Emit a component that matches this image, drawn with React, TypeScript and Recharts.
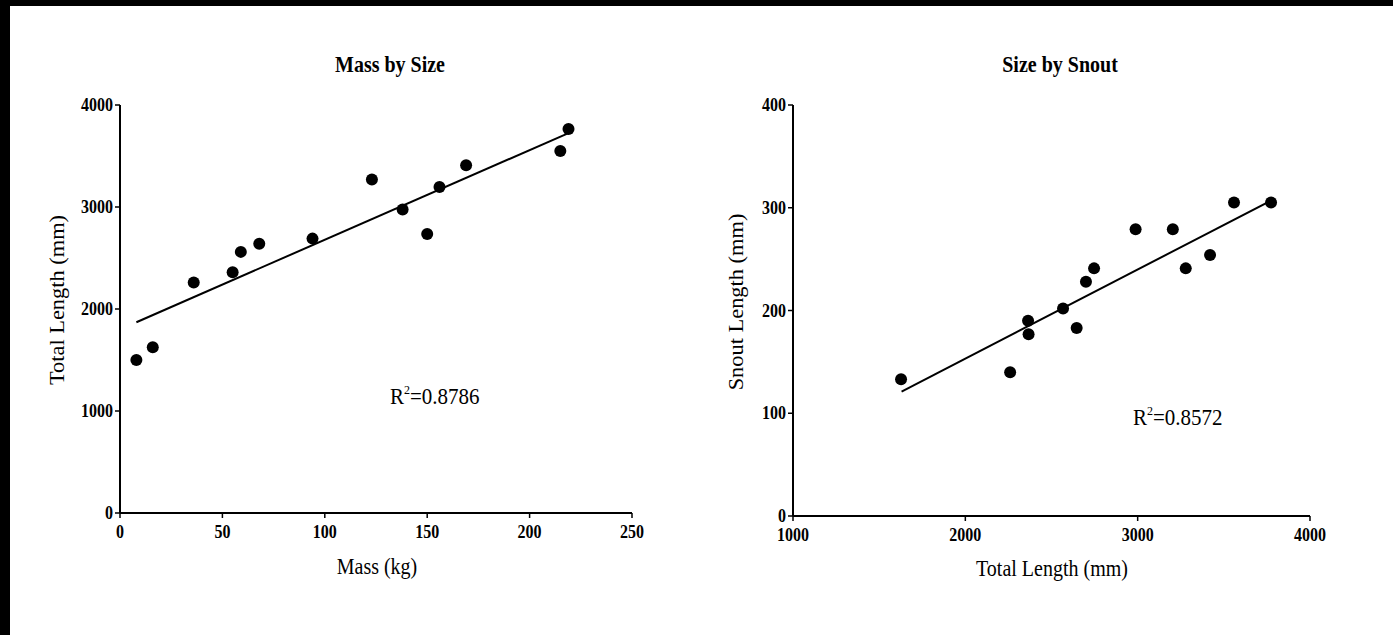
import React from 'react';
import { ScatterChart, Scatter, XAxis, YAxis } from 'recharts';

// ---- Data: Mass by Size ----
const massKg = [8, 16, 36, 55, 59, 68, 94, 123, 138, 150, 156, 169, 215, 219];
const totalLengthA = [1500, 1625, 2260, 2360, 2560, 2640, 2690, 3270, 2975, 2735, 3195, 3410, 3550, 3765];
const trendAX = [8, 219];
const trendAY = [1870, 3725];
const xTicksA = [0, 50, 100, 150, 200, 250];
const yTicksA = [0, 1000, 2000, 3000, 4000];

// ---- Data: Size by Snout ----
const totalLengthB = [1627, 2260, 2364, 2367, 2567, 2646, 2700, 2747, 2988, 3204, 3279, 3420, 3559, 3774];
const snoutB = [133, 140, 190, 177, 202, 183, 228, 241, 279, 279, 241, 254, 305, 305];
const trendBX = [1630, 3785];
const trendBY = [121, 308];
const xTicksB = [1000, 2000, 3000, 4000];
const yTicksB = [0, 100, 200, 300, 400];

const FONT = '"Liberation Serif", "Times New Roman", serif';

const pointsA = massKg.map((x, i) => ({ x, y: totalLengthA[i] }));
const lineA = trendAX.map((x, i) => ({ x, y: trendAY[i] }));
const pointsB = totalLengthB.map((x, i) => ({ x, y: snoutB[i] }));
const lineB = trendBX.map((x, i) => ({ x, y: trendBY[i] }));

const Dot = (props: any) => <circle cx={props.cx} cy={props.cy} r={6} fill="#000" />;
const NoDot = () => <g />;

const XTick = (props: any) => {
  const { x, y, payload } = props;
  return (
    <g transform={`translate(${x},${y + 2})`}>
      <text transform="scale(1,1.2)" x={0} y={0} dy={12} textAnchor="middle" fontSize={16} fontWeight="bold" fill="#000" fontFamily={FONT}>
        {payload.value}
      </text>
    </g>
  );
};

const YTick = (props: any) => {
  const { x, y, payload } = props;
  return (
    <g transform={`translate(${x},${y})`}>
      <text transform="scale(1,1.2)" x={0} y={0} dy={5} textAnchor="end" fontSize={16} fontWeight="bold" fill="#000" fontFamily={FONT}>
        {payload.value}
      </text>
    </g>
  );
};

const axisLine = { stroke: '#000', strokeWidth: 2 };
const tickLine = { stroke: '#000', strokeWidth: 1.5 };

const abs = (style: React.CSSProperties): React.CSSProperties => ({
  position: 'absolute',
  fontFamily: FONT,
  color: '#000',
  whiteSpace: 'nowrap',
  lineHeight: 1,
  ...style,
});

export default function App() {
  return (
    <div style={{ position: 'fixed', left: 0, top: 0, width: 1393, height: 635, background: '#fff', overflow: 'hidden' }}>
      <div style={{ position: 'absolute', left: 0, top: 0, width: 1393, height: 6, background: '#000' }} />
      <div style={{ position: 'absolute', left: 0, top: 0, width: 10, height: 635, background: '#000' }} />

      {/* Left chart */}
      <div style={{ position: 'absolute', left: 0, top: 0 }}>
        <ScatterChart width={700} height={635} margin={{ top: 105, right: 68, bottom: 92, left: 60 }}>
          <XAxis
            type="number"
            dataKey="x"
            domain={[0, 250]}
            ticks={xTicksA}
            interval={0}
            tick={<XTick />}
            axisLine={axisLine}
            tickLine={tickLine}
            tickSize={5}
            tickMargin={4}
            height={30}
            allowDataOverflow
          />
          <YAxis
            type="number"
            dataKey="y"
            domain={[0, 4000]}
            ticks={yTicksA}
            interval={0}
            tick={<YTick />}
            axisLine={axisLine}
            tickLine={tickLine}
            tickSize={5}
            tickMargin={2}
            width={60}
            allowDataOverflow
          />
          <Scatter data={lineA} line={{ stroke: '#000', strokeWidth: 2 }} shape={NoDot} isAnimationActive={false} legendType="none" />
          <Scatter data={pointsA} shape={Dot} isAnimationActive={false} />
        </ScatterChart>
      </div>
      <div style={abs({ left: 390, top: 64, transform: 'translate(-50%,-50%) scale(1,1.15)', fontSize: 20, fontWeight: 'bold' })}>Mass by Size</div>
      <div style={abs({ left: 377, top: 566, transform: 'translate(-50%,-50%) scale(1,1.12)', fontSize: 20 })}>Mass (kg)</div>
      <div style={abs({ left: 57, top: 300, transform: 'translate(-50%,-50%) rotate(-90deg) scale(1.12,1)', fontSize: 20 })}>Total Length (mm)</div>
      <div style={abs({ left: 390, top: 386, fontSize: 21, transform: 'scale(1,1.12)' })}>
        R<sup style={{ fontSize: 12, verticalAlign: 'top', position: 'relative', top: -2 }}>2</sup>=0.8786
      </div>

      {/* Right chart */}
      <div style={{ position: 'absolute', left: 680, top: 0 }}>
        <ScatterChart width={713} height={635} margin={{ top: 105, right: 83, bottom: 89, left: 53 }}>
          <XAxis
            type="number"
            dataKey="x"
            domain={[1000, 4000]}
            ticks={xTicksB}
            interval={0}
            tick={<XTick />}
            axisLine={axisLine}
            tickLine={tickLine}
            tickSize={5}
            tickMargin={4}
            height={30}
            allowDataOverflow
          />
          <YAxis
            type="number"
            dataKey="y"
            domain={[0, 400]}
            ticks={yTicksB}
            interval={0}
            tick={<YTick />}
            axisLine={axisLine}
            tickLine={tickLine}
            tickSize={5}
            tickMargin={2}
            width={60}
            allowDataOverflow
          />
          <Scatter data={lineB} line={{ stroke: '#000', strokeWidth: 2 }} shape={NoDot} isAnimationActive={false} legendType="none" />
          <Scatter data={pointsB} shape={Dot} isAnimationActive={false} />
        </ScatterChart>
      </div>
      <div style={abs({ left: 1060, top: 64, transform: 'translate(-50%,-50%) scale(1,1.15)', fontSize: 20, fontWeight: 'bold' })}>Size by Snout</div>
      <div style={abs({ left: 1052, top: 568, transform: 'translate(-50%,-50%) scale(1,1.12)', fontSize: 20 })}>Total Length (mm)</div>
      <div style={abs({ left: 736, top: 302, transform: 'translate(-50%,-50%) rotate(-90deg) scale(1.12,1)', fontSize: 20 })}>Snout Length (mm)</div>
      <div style={abs({ left: 1133, top: 407, fontSize: 21, transform: 'scale(1,1.12)' })}>
        R<sup style={{ fontSize: 12, verticalAlign: 'top', position: 'relative', top: -2 }}>2</sup>=0.8572
      </div>
    </div>
  );
}
